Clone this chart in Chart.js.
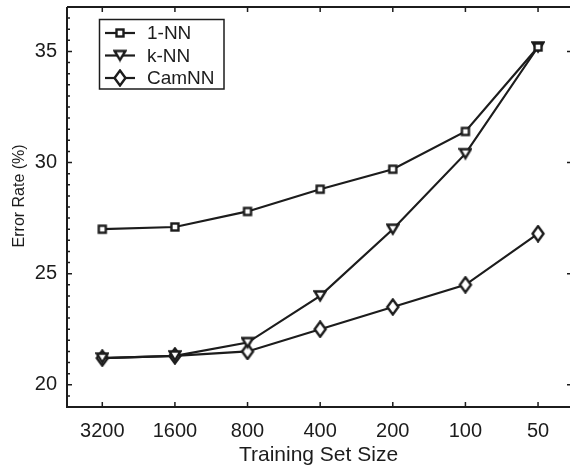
<!DOCTYPE html>
<html>
<head>
<meta charset="utf-8">
<script src="https://cdn.jsdelivr.net/npm/chart.js@4.4.1/dist/chart.umd.min.js"></script>
<style>
  html, body { margin: 0; padding: 0; background: #fff; }
  #wrap { width: 570px; height: 468px; }
</style>
</head>
<body>
<div id="wrap"><canvas id="errChart" width="570" height="468"></canvas></div>
<script>
// Training set sizes along the x axis
var sizes = ['3200', '1600', '800', '400', '200', '100', '50'];
// Error rates (%)
var oneNN = [27.0, 27.1, 27.8, 28.8, 29.7, 31.4, 35.2];
var kNN = [21.2, 21.3, 21.9, 24.0, 27.0, 30.4, 35.2];
var camNN = [21.2, 21.3, 21.5, 22.5, 23.5, 24.5, 26.8];
var yTicks = [20, 25, 30, 35];

var ink = '#1c1c1c';
var fontFamily = '"Liberation Sans", Arial, Helvetica, sans-serif';

// marker images
function makeMarker(w, h, draw) {
    var c = document.createElement('canvas');
    c.width = w;
    c.height = h;
    var g = c.getContext('2d');
    g.lineWidth = 2.4;
    g.strokeStyle = ink;
    g.fillStyle = '#fff';
    g.lineJoin = 'miter';
    draw(g);
    return c;
}

var squareImg = makeMarker(12, 12, function (g) {
    g.fillRect(2.5, 2.5, 7, 7);
    g.strokeRect(2.5, 2.5, 7, 7);
});
var triImg = makeMarker(14, 14, function (g) {
    g.beginPath();
    g.moveTo(1.5, 2.5);
    g.lineTo(12.5, 2.5);
    g.lineTo(7, 11.5);
    g.closePath();
    g.fill();
    g.stroke();
});
var diamondImg = makeMarker(16, 18, function (g) {
    g.beginPath();
    g.moveTo(8, 1.5);
    g.lineTo(13.5, 9);
    g.lineTo(8, 16.5);
    g.lineTo(2.5, 9);
    g.closePath();
    g.fill();
    g.stroke();
});

function toPoints(values) {
    return values.map(function (v, i) { return { x: i, y: v }; });
}

function series(label, values, img) {
    return {
        label: label,
        data: toPoints(values),
        borderColor: ink,
        borderWidth: 2.2,
        pointStyle: img,
        pointRadius: 6,
        pointHoverRadius: 6,
        tension: 0
    };
}

// axis frame with inward ticks, drawn from the scales
var framePlugin = {
    id: 'frame',
    afterDatasetsDraw: function (chart) {
        var ctx = chart.ctx;
        var a = chart.chartArea;
        var xs = chart.scales.x;
        var ys = chart.scales.y;
        ctx.save();
        ctx.strokeStyle = ink;
        ctx.lineWidth = 1.5;
        ctx.beginPath();
        for (var v = 19; v <= 37; v += 0.5) {
            var py = ys.getPixelForValue(v);
            var len = (v % 5 === 0) ? 5 : 3;
            ctx.moveTo(a.left, py);
            ctx.lineTo(a.left + len, py);
        }
        yTicks.forEach(function (t) {
            var py = ys.getPixelForValue(t);
            ctx.moveTo(a.right, py);
            ctx.lineTo(a.right - 3, py);
        });
        sizes.forEach(function (s, i) {
            var px = xs.getPixelForValue(i);
            ctx.moveTo(px, a.bottom);
            ctx.lineTo(px, a.bottom - 5);
            ctx.moveTo(px, a.top);
            ctx.lineTo(px, a.top + 5);
        });
        ctx.stroke();

        ctx.lineWidth = 2;
        ctx.beginPath();
        ctx.moveTo(a.left, a.top);
        ctx.lineTo(a.left, a.bottom);
        ctx.lineTo(a.right, a.bottom);
        ctx.moveTo(a.left, a.top);
        ctx.lineTo(a.right, a.top);
        ctx.stroke();

        // legend box
        var entries = chart.data.datasets;
        var rows = [33, 55.5, 78];
        ctx.fillStyle = '#fff';
        ctx.fillRect(99.5, 19.5, 124.5, 69.5);
        ctx.lineWidth = 1.5;
        ctx.strokeRect(99.5, 19.5, 124.5, 69.5);
        ctx.font = '19px ' + fontFamily;
        ctx.textBaseline = 'middle';
        ctx.textAlign = 'left';
        entries.forEach(function (ds, i) {
            var y = rows[i];
            ctx.lineWidth = 2.2;
            ctx.beginPath();
            ctx.moveTo(105, y);
            ctx.lineTo(135, y);
            ctx.stroke();
            var img = ds.pointStyle;
            ctx.drawImage(img, 120 - img.width / 2, y - img.height / 2);
            ctx.fillStyle = ink;
            ctx.fillText(ds.label, 147, y + 1);
        });
        ctx.restore();
    }
};

var config = {
    type: 'line',
    data: {
        datasets: [
            series('1-NN', oneNN, squareImg),
            series('k-NN', kNN, triImg),
            series('CamNN', camNN, diamondImg)
        ]
    },
    options: {
        responsive: false,
        animation: false,
        layout: { autoPadding: false, padding: { top: 7, right: 0, left: 0, bottom: 0 } },
        plugins: {
            legend: { display: false },
            tooltip: { enabled: false }
        },
        scales: {
            x: {
                type: 'linear',
                min: -0.486,
                max: 6.44,
                afterBuildTicks: function (scale) {
                    scale.ticks = sizes.map(function (s, i) { return { value: i }; });
                },
                afterFit: function (scale) {
                    scale.height = 61;
                    scale.paddingLeft = 0;
                    scale.paddingRight = 0;
                },
                grid: { display: false, drawTicks: false },
                border: { display: false },
                ticks: {
                    color: ink,
                    padding: 12,
                    maxRotation: 0,
                    autoSkip: false,
                    font: { family: fontFamily, size: 20 },
                    callback: function (v) { return sizes[v]; }
                },
                title: {
                    display: true,
                    text: 'Training Set Size',
                    color: ink,
                    padding: { top: 0, bottom: 0 },
                    font: { family: fontFamily, size: 21 }
                }
            },
            y: {
                min: 19,
                max: 37,
                afterBuildTicks: function (scale) {
                    scale.ticks = yTicks.map(function (t) { return { value: t }; });
                },
                afterFit: function (scale) {
                    scale.width = 67;
                    scale.paddingTop = 0;
                    scale.paddingBottom = 0;
                },
                grid: { display: false, drawTicks: false },
                border: { display: false },
                ticks: {
                    color: ink,
                    padding: 10,
                    font: { family: fontFamily, size: 20 }
                },
                title: {
                    display: true,
                    text: '     Error Rate (%)',
                    color: ink,
                    padding: { top: 10, bottom: 0 },
                    font: { family: fontFamily, size: 16 }
                }
            }
        }
    },
    plugins: [framePlugin]
};

new Chart(document.getElementById('errChart'), config);
</script>
</body>
</html>
